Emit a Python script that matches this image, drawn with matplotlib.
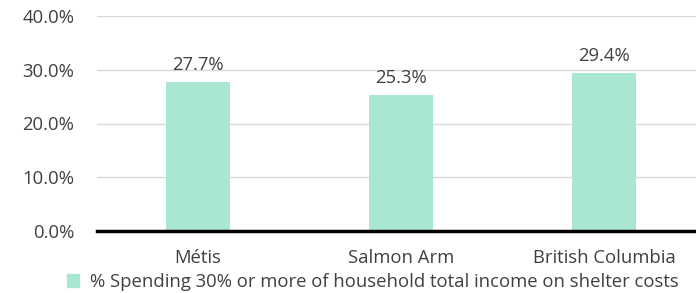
import matplotlib.pyplot as plt
import matplotlib.ticker as mtick
from matplotlib.patches import Patch

# ---------- DATA ----------
categories = ['Métis', 'Salmon Arm', 'British Columbia']
values = [27.7, 25.3, 29.4]
series_name = '% Spending 30% or more of household total income on shelter costs'
y_ticks = [0, 10, 20, 30, 40]

plt.rcParams['font.family'] = ['Open Sans', 'DejaVu Sans']
bar_color = '#A9E6D3'
text_color = '#404040'
fs = 13.3

fig = plt.figure(figsize=(6.96, 2.93), dpi=100)
ax = fig.add_axes([96.5 / 696, 1 - 231 / 293, 609 / 696, 215 / 293])

x = range(len(categories))
ax.bar(x, values, width=0.315, color=bar_color, zorder=2)
for xi, v in zip(x, values):
    ax.annotate('{:.1f}%'.format(v), (xi, v), xytext=(0, 6), textcoords='offset points',
                ha='center', va='bottom', fontsize=fs, color=text_color)

ax.set_xlim(-0.5, 2.5)
ax.set_ylim(0, 40)
ax.set_yticks(y_ticks)
ax.yaxis.set_major_formatter(mtick.PercentFormatter(100, decimals=1))
ax.set_xticks(list(x))
ax.set_xticklabels(categories)
ax.tick_params(axis='both', length=0, labelsize=fs, labelcolor=text_color)
ax.tick_params(axis='y', pad=16)
ax.tick_params(axis='x', pad=13)
ax.grid(axis='y', color='#d9d9d9', linewidth=1, zorder=0)
for s in ['top', 'right', 'left']:
    ax.spines[s].set_visible(False)
ax.spines['bottom'].set_linewidth(2.5)
ax.spines['bottom'].set_color('black')
ax.spines['bottom'].set_zorder(3)

fig.legend(handles=[Patch(color=bar_color, label=series_name)], loc='center',
           bbox_to_anchor=(373 / 696, 1 - 282 / 293), frameon=False, fontsize=fs,
           handlelength=0.65, handleheight=0.65, handletextpad=0.6, labelcolor=text_color,
           borderpad=0, borderaxespad=0)

fig.savefig('out.png', dpi=100)
